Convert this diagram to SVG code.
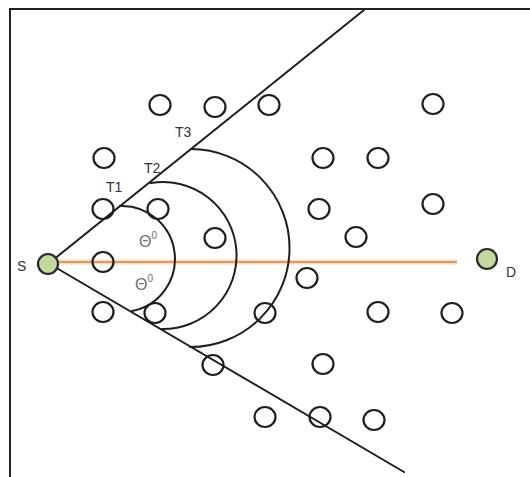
<svg xmlns="http://www.w3.org/2000/svg" width="530" height="477" viewBox="0 0 530 477">
<style>
.n{fill:none;stroke:#1e1e1e;stroke-width:2.2}
.g{fill:#c5d89f;stroke:#2a2a2a;stroke-width:2.2}
.ln{fill:none;stroke:#1e1e1e;stroke-width:2;stroke-linecap:round}
.lbl{font-family:"Liberation Sans",Arial,sans-serif;font-size:14px;fill:#333}
.th{font-family:"Liberation Sans",Arial,sans-serif;font-size:16px;fill:#707070}
</style>
<rect x="0" y="0" width="530" height="477" fill="#fff"/>
<path d="M10 477 V9 H530" fill="none" stroke="#222" stroke-width="2"/>
<g id="connectors">
<line x1="48" y1="262" x2="457" y2="262" stroke="#f6dcc4" stroke-width="5"/>
<line x1="48" y1="262" x2="457" y2="262" stroke="#e29a60" stroke-width="2"/>
<line class="ln" x1="48" y1="264" x2="364" y2="10"/>
<line class="ln" x1="48" y1="263" x2="404" y2="472"/>
<path class="ln" d="M120 206 A53 53 0 0 1 132 311"/>
<path class="ln" d="M151 183 A73.5 73.5 0 1 1 162 329"/>
<path class="ln" d="M191 149 A99 99 0 1 1 190 347"/>
</g>
<g id="labels">
<text class="lbl" x="106" y="192">T1</text>
<text class="lbl" x="144" y="173">T2</text>
<text class="lbl" x="175" y="137">T3</text>
<text class="th" x="139" y="247">Θ<tspan font-size="10" dy="-8">0</tspan></text>
<text class="th" x="135" y="290">Θ<tspan font-size="10" dy="-8">0</tspan></text>
</g>
<g id="S"><circle class="g" cx="48" cy="264" r="10"/><text class="lbl" x="17" y="271" font-size="12">S</text></g>
<g id="D"><circle class="g" cx="487" cy="259" r="10"/><text class="lbl" x="506" y="277" font-size="12">D</text></g>
<g id="nodes">
<ellipse id="n1" class="n" cx="160" cy="105" rx="10.5" ry="10"/>
<ellipse id="n2" class="n" cx="215" cy="107" rx="10.5" ry="10"/>
<ellipse id="n3" class="n" cx="269" cy="105" rx="10.5" ry="10"/>
<ellipse id="n4" class="n" cx="433" cy="104" rx="10.5" ry="10"/>
<ellipse id="n5" class="n" cx="104" cy="158" rx="10.5" ry="10"/>
<ellipse id="n6" class="n" cx="323" cy="158" rx="10.5" ry="10"/>
<ellipse id="n7" class="n" cx="378" cy="158" rx="10.5" ry="10"/>
<ellipse id="n8" class="n" cx="103" cy="209" rx="10.5" ry="10"/>
<ellipse id="n9" class="n" cx="158" cy="209" rx="10.5" ry="10"/>
<ellipse id="n10" class="n" cx="319" cy="209" rx="10.5" ry="10"/>
<ellipse id="n11" class="n" cx="433" cy="204" rx="10.5" ry="10"/>
<ellipse id="n12" class="n" cx="215" cy="238" rx="10.5" ry="10"/>
<ellipse id="n13" class="n" cx="356" cy="237" rx="10.5" ry="10"/>
<ellipse id="n14" class="n" cx="103" cy="262" rx="10.5" ry="10"/>
<ellipse id="n15" class="n" cx="307" cy="278" rx="10.5" ry="10"/>
<ellipse id="n16" class="n" cx="103" cy="312" rx="10.5" ry="10"/>
<ellipse id="n17" class="n" cx="155" cy="313" rx="10.5" ry="10"/>
<ellipse id="n18" class="n" cx="265" cy="313" rx="10.5" ry="10"/>
<ellipse id="n19" class="n" cx="378" cy="312" rx="10.5" ry="10"/>
<ellipse id="n20" class="n" cx="452" cy="313" rx="10.5" ry="10"/>
<ellipse id="n21" class="n" cx="213" cy="365" rx="10.5" ry="10"/>
<ellipse id="n22" class="n" cx="323" cy="364" rx="10.5" ry="10"/>
<ellipse id="n23" class="n" cx="265" cy="417" rx="10.5" ry="10"/>
<ellipse id="n24" class="n" cx="320" cy="417" rx="10.5" ry="10"/>
<ellipse id="n25" class="n" cx="374" cy="420" rx="10.5" ry="10"/>
</g>
</svg>
